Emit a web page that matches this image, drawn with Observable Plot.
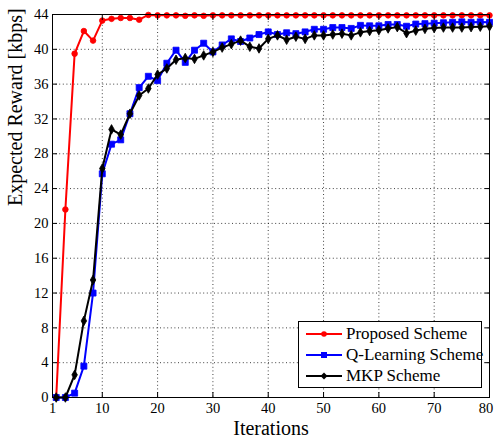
<!DOCTYPE html>
<html>
<head>
<meta charset="utf-8">
<script src="https://cdn.jsdelivr.net/npm/d3@7"></script>
<script src="https://cdn.jsdelivr.net/npm/@observablehq/plot@0.6"></script>
<style>
  html, body { margin: 0; padding: 0; background: #fff; }
  #wrap { position: relative; width: 495px; height: 440px; font-family: "Liberation Serif", "Times New Roman", serif; }
  #legend { position: absolute; left: 298px; top: 321px; width: 182px; height: 65px; border: 1px solid #000; background: #fff; font-size: 17px; }
  .row { position: absolute; left: 0; height: 21px; display: flex; align-items: center; white-space: nowrap; }
  .row svg { margin-left: 6px; margin-right: 3px; }
</style>
</head>
<body>
<div id="wrap"><div id="legend"></div></div>
<script>
const iterations = [1.67, 3.33, 5, 6.67, 8.33, 10, 11.67, 13.33, 15, 16.67, 18.33, 20, 21.67, 23.33, 25, 26.67, 28.33, 30, 31.67, 33.33, 35, 36.67, 38.33, 40, 41.67, 43.33, 45, 46.67, 48.33, 50, 51.67, 53.33, 55, 56.67, 58.33, 60, 61.67, 63.33, 65, 66.67, 68.33, 70, 71.67, 73.33, 75, 76.67, 78.33, 80];

const proposed = [0, 21.6, 39.5, 42.1, 41.0, 43.3, 43.5, 43.6, 43.6, 43.4, 43.95, 43.9, 43.9, 43.9, 43.85, 43.9, 43.85, 43.9, 43.9, 43.9, 43.9, 43.9, 43.9, 43.9, 43.9, 43.9, 43.9, 43.9, 43.9, 43.9, 43.9, 43.9, 43.9, 43.9, 43.9, 43.9, 43.9, 43.9, 43.9, 43.9, 43.9, 43.9, 43.9, 43.9, 43.9, 43.9, 43.9, 43.9];

const qLearning = [0, 0, 0.5, 3.6, 12.0, 25.7, 29.1, 29.6, 32.6, 35.6, 36.9, 36.4, 38.4, 39.9, 38.5, 39.9, 40.7, 39.7, 40.5, 41.2, 40.9, 41.3, 41.7, 42.0, 41.7, 41.9, 41.8, 42.0, 42.3, 42.3, 42.5, 42.5, 42.4, 42.75, 42.7, 42.7, 42.85, 42.85, 42.65, 42.9, 42.95, 43.0, 43.05, 43.1, 43.15, 43.1, 43.15, 43.1];

const mkp = [0, 0, 2.6, 8.8, 13.5, 26.3, 30.8, 30.2, 32.6, 34.7, 35.5, 37.1, 37.8, 38.8, 39.0, 38.9, 39.3, 39.7, 40.2, 40.6, 41.0, 40.3, 40.1, 41.2, 41.6, 41.1, 41.45, 41.2, 41.6, 41.6, 41.7, 41.8, 41.6, 41.95, 42.1, 42.2, 42.4, 42.55, 41.85, 42.15, 42.35, 42.45, 42.5, 42.5, 42.5, 42.55, 42.6, 42.65];

const xTicks = [1, 10, 20, 30, 40, 50, 60, 70, 80];
const xTickLabelsMain = [1, 10, 20, 30, 40, 50, 60, 70];
const xTickLabelsEdge = [80];
const yTicks = [0, 4, 8, 12, 16, 20, 24, 28, 32, 36, 40, 44];
const xGrid = [10, 20, 30, 40, 50, 60, 70];
const yGrid = [4, 8, 12, 16, 20, 24, 28, 32, 36, 40];

const seriesNames = ["Proposed Scheme", "Q-Learning Scheme", "MKP Scheme"];
const seriesColors = ["#ff0000", "#0000ff", "#000000"];
const seriesSymbols = ["circle", "square", "diamond"];
const seriesRadius = [2.8, 3.4, 2.9];
const seriesValues = [proposed, qLearning, mkp];

const FONT = "Liberation Serif, Times New Roman, serif";

const rows = [];
seriesValues.forEach((vals, s) => vals.forEach((v, i) => rows.push({series: seriesNames[s], x: iterations[i], y: v})));

const gridStyle = {stroke: "#000", strokeOpacity: 0.75, strokeDasharray: "1,2.6", strokeWidth: 1};

const marks = [
  Plot.gridX(xGrid, gridStyle),
  Plot.gridY(yGrid, gridStyle)
];
seriesNames.forEach((name, s) => {
  const data = rows.filter(d => d.series === name);
  marks.push(Plot.line(data, {x: "x", y: "y", stroke: seriesColors[s], strokeWidth: 2}));
  marks.push(Plot.dot(data, {x: "x", y: "y", symbol: seriesSymbols[s], r: seriesRadius[s], fill: seriesColors[s], stroke: seriesColors[s], strokeWidth: 0.8}));
});
marks.push(
  Plot.frame({stroke: "#000", strokeWidth: 1}),
  Plot.axisX(xTickLabelsMain, {anchor: "bottom", tickSize: 0, tickPadding: 5, label: null, fontSize: 14.5, fontFamily: FONT}),
  Plot.axisX(xTickLabelsEdge, {anchor: "bottom", tickSize: 0, tickPadding: 5, label: null, fontSize: 14.5, fontFamily: FONT, dx: -3.5}),
  Plot.axisX(xTicks, {anchor: "bottom", tickSize: -5, text: null, label: null}),
  Plot.axisX(xTicks, {anchor: "top", tickSize: -5, text: null, label: null}),
  Plot.axisY(yTicks, {anchor: "left", tickSize: 0, tickPadding: 4, label: null, fontSize: 14.5, fontFamily: FONT}),
  Plot.axisY(yTicks, {anchor: "left", tickSize: -5, text: null, label: null}),
  Plot.axisY(yTicks, {anchor: "right", tickSize: -5, text: null, label: null}),
  Plot.text(["Iterations"], {frameAnchor: "bottom", dy: 31, fontSize: 20, lineAnchor: "middle", fontFamily: FONT}),
  Plot.text(["Expected Reward [kbps]"], {frameAnchor: "left", dx: -37, rotate: -90, fontSize: 20, fontFamily: FONT})
);

const chart = Plot.plot({
  width: 495,
  height: 440,
  marginLeft: 52,
  marginRight: 6,
  marginTop: 14,
  marginBottom: 43,
  x: {domain: [1, 80]},
  y: {domain: [0, 44]},
  style: {fontFamily: FONT, fontSize: "14px", background: "#fff", color: "#000"},
  marks
});
const wrap = document.getElementById("wrap");
wrap.insertBefore(chart, wrap.firstChild);

const legend = document.getElementById("legend");
seriesNames.forEach((name, s) => {
  const row = document.createElement("div");
  row.className = "row";
  row.style.top = (1 + s * 21) + "px";
  const sym = seriesSymbols[s];
  let markerSvg;
  if (sym === "circle") markerSvg = `<circle cx="19" cy="10" r="2.8" fill="${seriesColors[s]}"/>`;
  else if (sym === "square") markerSvg = `<rect x="16" y="7" width="6" height="6" fill="${seriesColors[s]}"/>`;
  else markerSvg = `<path d="M19,6.5L22.5,10L19,13.5L15.5,10Z" fill="${seriesColors[s]}"/>`;
  row.innerHTML = `<svg width="38" height="20"><line x1="1" y1="10" x2="37" y2="10" stroke="${seriesColors[s]}" stroke-width="2"/>${markerSvg}</svg><span>${name}</span>`;
  legend.appendChild(row);
});
</script>
</body>
</html>
